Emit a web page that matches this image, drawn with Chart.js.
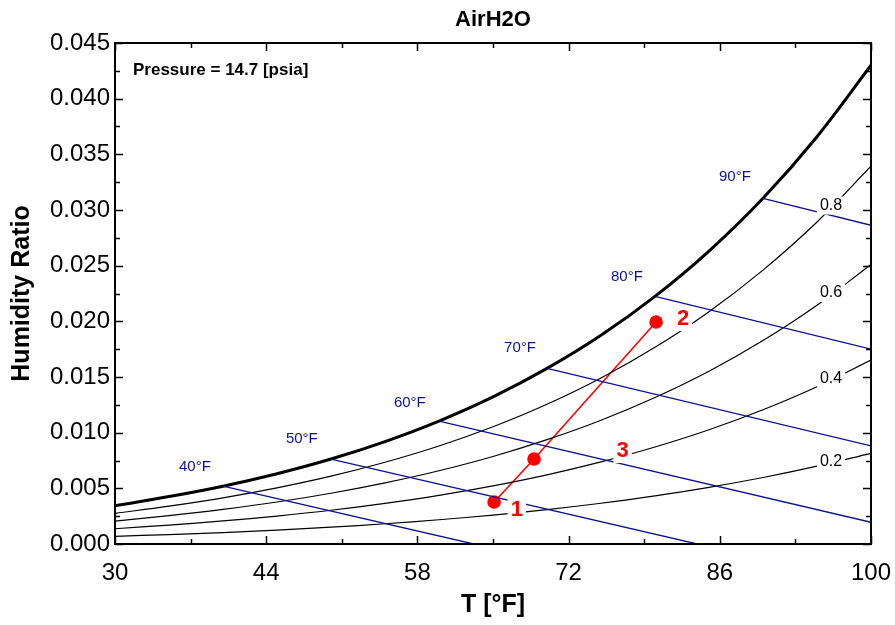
<!DOCTYPE html>
<html>
<head>
<meta charset="utf-8">
<script src="https://cdn.jsdelivr.net/npm/chart.js@4/dist/chart.umd.min.js"></script>
<style>
  html, body { margin: 0; padding: 0; background: #fff; }
  #wrap { width: 895px; height: 625px; }
</style>
</head>
<body>
<div id="wrap"><canvas id="psyChart"></canvas></div>
<script>
// dry bulb temperatures along the curves [°F]
const temps = [30, 35, 40, 45, 50, 55, 60, 65, 70, 75, 80, 85, 90, 95, 100];
// humidity ratio
const wSat = [0.00344, 0.00426, 0.00519, 0.00631, 0.00763, 0.00920, 0.01104, 0.01321, 0.01577, 0.01875, 0.02224, 0.02631, 0.03105, 0.03658, 0.04300];
const w80 = [0.00275, 0.00340, 0.00415, 0.00504, 0.00609, 0.00734, 0.00880, 0.01053, 0.01255, 0.01491, 0.01767, 0.02087, 0.02460, 0.02892, 0.03393];
const w60 = [0.00206, 0.00255, 0.00311, 0.00377, 0.00456, 0.00549, 0.00658, 0.00786, 0.00937, 0.01112, 0.01316, 0.01552, 0.01827, 0.02144, 0.02511];
const w40 = [0.00137, 0.00170, 0.00207, 0.00251, 0.00303, 0.00365, 0.00437, 0.00522, 0.00621, 0.00737, 0.00871, 0.01026, 0.01206, 0.01413, 0.01652];
const w20 = [0.00069, 0.00085, 0.00103, 0.00125, 0.00151, 0.00182, 0.00218, 0.00260, 0.00309, 0.00366, 0.00432, 0.00509, 0.00597, 0.00699, 0.00815];
const rhNames = ['0.8', '0.6', '0.4', '0.2'];
const rhLabelT = 96.3;
const rhLabelW = [0.0304, 0.02255, 0.0149, 0.0074];

// wet bulb lines
const wbNames = ['40°F', '50°F', '60°F', '70°F', '80°F', '90°F'];
const wbStartT = [40, 50, 60, 70, 80, 90];
const wbStartW = [0.00519, 0.00763, 0.01104, 0.01577, 0.02224, 0.03105];
const wbEndT = [63.2, 83.9, 100, 100, 100, 100];
const wbEndW = [0, 0, 0.00195, 0.00882, 0.01751, 0.02863];
const wbLabelT = [37.4, 47.3, 57.3, 67.5, 77.4, 87.4];
const wbLabelW = [0.00692, 0.00943, 0.01267, 0.0176, 0.02398, 0.03297];

// state points
const stateNames = ['1', '2', '3'];
const stateT = [65.1, 80.1, 68.8];
const stateW = [0.00377, 0.01994, 0.00763];
const statePath = [0, 2, 1];
const stateLabelT = [67.2, 82.6, 77.0];
const stateLabelW = [0.00305, 0.0202, 0.00835];

const FONT = "'Liberation Sans', Arial, sans-serif";
const BLUE = '#0f1290';

const toPts = (xs, ys) => xs.map((x, i) => ({ x: x, y: ys[i] }));

const datasets = [];
wbNames.forEach((n, i) => {
    datasets.push({
        label: n,
        data: [{ x: wbStartT[i], y: wbStartW[i] }, { x: wbEndT[i], y: wbEndW[i] }],
        showLine: true, borderColor: BLUE, borderWidth: 1.3, pointRadius: 0
    });
});
[w80, w60, w40, w20].forEach((w, i) => {
    datasets.push({
        label: rhNames[i],
        data: toPts(temps, w),
        showLine: true, borderColor: '#000', borderWidth: 1.2, pointRadius: 0, tension: 0.4
    });
});
datasets.push({
    label: 'sat',
    data: toPts(temps, wSat),
    showLine: true, borderColor: '#000', borderWidth: 3, pointRadius: 0, tension: 0.4
});
datasets.push({
    label: 'process',
    data: statePath.map(i => ({ x: stateT[i], y: stateW[i] })),
    showLine: true, borderColor: '#ff0000', borderWidth: 1.6,
    pointRadius: 6, pointBackgroundColor: '#ff0000', pointBorderColor: '#ff0000'
});

// labels, frame and inward ticks
const decorPlugin = {
    id: 'decor',
    afterDatasetsDraw(chart) {
        const ctx = chart.ctx;
        const a = chart.chartArea;
        const sx = chart.scales.x, sy = chart.scales.y;

        function label(text, t, w, font, color, pad) {
            const px = sx.getPixelForValue(t), py = sy.getPixelForValue(w);
            ctx.font = font;
            const tw = ctx.measureText(text).width;
            const fh = parseInt(font.match(/(\d+)px/)[1], 10);
            if (pad) {
                ctx.fillStyle = '#fff';
                ctx.fillRect(px - tw / 2 - pad, py - fh / 2 - 1, tw + pad * 2, fh + 2);
            }
            ctx.fillStyle = color;
            ctx.textAlign = 'center';
            ctx.textBaseline = 'middle';
            ctx.fillText(text, px, py);
        }

        ctx.save();
        wbNames.forEach((n, i) => label(n, wbLabelT[i], wbLabelW[i], '15px ' + FONT, BLUE, 0));
        rhNames.forEach((n, i) => label(n, rhLabelT, rhLabelW[i], '16px ' + FONT, '#000', 3));
        stateNames.forEach((n, i) => label(n, stateLabelT[i], stateLabelW[i], 'bold 22px ' + FONT, '#ff0000', 3));

        // pressure note
        ctx.font = 'bold 17px ' + FONT;
        ctx.fillStyle = '#000';
        ctx.textAlign = 'left';
        ctx.textBaseline = 'middle';
        ctx.fillText('Pressure = 14.7 [psia]', a.left + 18, a.top + 27);

        // frame
        ctx.strokeStyle = '#000';
        ctx.lineWidth = 2;
        ctx.strokeRect(a.left, a.top, a.right - a.left, a.bottom - a.top);

        // inward ticks
        ctx.lineWidth = 1.5;
        ctx.beginPath();
        sx.ticks.forEach((tk, i) => {
            const x = Math.round(sx.getPixelForValue(tk.value)) + 0.5;
            const len = i % 2 === 0 ? 8 : 5;
            ctx.moveTo(x, a.bottom); ctx.lineTo(x, a.bottom - len);
            ctx.moveTo(x, a.top); ctx.lineTo(x, a.top + len);
        });
        sy.ticks.forEach((tk, i) => {
            const y = Math.round(sy.getPixelForValue(tk.value)) + 0.5;
            const len = i % 2 === 0 ? 8 : 5;
            ctx.moveTo(a.left, y); ctx.lineTo(a.left + len, y);
            ctx.moveTo(a.right, y); ctx.lineTo(a.right - len, y);
        });
        ctx.stroke();
        ctx.restore();
    }
};

new Chart(document.getElementById('psyChart').getContext('2d'), {
    type: 'scatter',
    data: { datasets: datasets },
    options: {
        responsive: true,
        maintainAspectRatio: false,
        animation: false,
        layout: { padding: { left: 0, right: 24, top: 0, bottom: 0 } },
        plugins: {
            legend: { display: false },
            tooltip: { enabled: false },
            title: {
                display: true,
                fullSize: false,
                text: 'AirH2O',
                color: '#000',
                font: { family: FONT, size: 22, weight: 'bold' },
                padding: { top: 7, bottom: 9.6 }
            }
        },
        scales: {
            x: {
                type: 'linear',
                min: 30, max: 100,
                grid: { display: false, drawTicks: false },
                border: { display: false },
                ticks: {
                    stepSize: 7,
                    color: '#000',
                    padding: 15,
                    maxRotation: 0,
                    autoSkip: false,
                    font: { family: FONT, size: 24 },
                    callback: (v, i) => i % 2 === 0 ? v : ''
                },
                title: {
                    display: true,
                    text: 'T [°F]',
                    color: '#000',
                    font: { family: FONT, size: 25, weight: 'bold' },
                    padding: { top: 0, bottom: 5 }
                },
                afterFit: s => { s.height = 81; s.paddingLeft = 0; s.paddingRight = 0; }
            },
            y: {
                type: 'linear',
                min: 0, max: 0.045,
                grid: { display: false, drawTicks: false },
                border: { display: false },
                ticks: {
                    stepSize: 0.0025,
                    color: '#000',
                    padding: 5,
                    autoSkip: false,
                    font: { family: FONT, size: 24 },
                    callback: (v, i) => i % 2 === 0 ? v.toFixed(3) : ''
                },
                title: {
                    display: true,
                    text: 'Humidity Ratio',
                    color: '#000',
                    font: { family: FONT, size: 25, weight: 'bold' },
                    padding: { top: 7, bottom: 0 }
                },
                afterFit: s => { s.width = 115; s.paddingTop = 0; s.paddingBottom = 0; }
            }
        }
    },
    plugins: [decorPlugin]
});
</script>
</body>
</html>
